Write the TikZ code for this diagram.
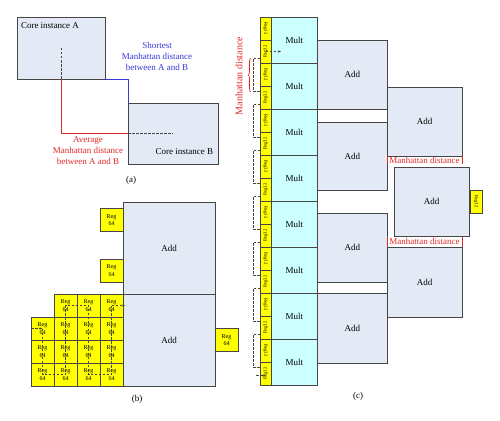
\documentclass[tikz,border=0pt]{standalone}
\usepackage{fontspec}
\setmainfont{Liberation Serif}
\usetikzlibrary{arrows.meta, positioning, decorations.pathreplacing}
\definecolor{corefill}{RGB}{228,234,245}
\definecolor{multfill}{RGB}{204,255,255}
\definecolor{regfill}{RGB}{255,255,0}
\definecolor{edge}{RGB}{70,70,70}
\definecolor{distred}{RGB}{225,40,40}
\definecolor{distblue}{RGB}{55,55,215}

\begin{document}
\begin{tikzpicture}[
      x=1pt, y=-1pt, >={Stealth[length=3pt]},
      every node/.style={inner sep=0pt, outer sep=0pt},
      box/.style={draw=edge, line width=0.8pt, fill=corefill, font=\fontsize{9}{10}\selectfont},
      mult/.style={box, fill=multfill, minimum width=46.5pt, minimum height=46pt},
      reg/.style={draw=edge, line width=0.6pt, fill=regfill, minimum size=23pt, align=center, font=\fontsize{6}{7.5}\selectfont},
      regthin/.style={reg, minimum width=23pt, minimum height=11pt, font=\fontsize{4.6}{5}\selectfont},
      txt/.style={align=center, font=\fontsize{9}{11}\selectfont},
      route/.style={draw=edge, line width=0.6pt, dash pattern=on 2.5pt off 1.5pt},
      ]
      \path[use as bounding box, fill=white] (0,0) rectangle (500,420);

      % (a) two core instances
      \node[box, minimum width=88pt, minimum height=62pt] (coreA) at (61,48) {};
      \node[box, minimum width=90pt, minimum height=61pt] (coreB) at (173,133.5) {};
      \node[txt, anchor=west] (labA) at (21,26) {Core instance A};
      \node[txt, anchor=east] (labB) at (213,152) {Core instance B};
      \draw[route] (coreA.center) -- (coreA.center |- coreA.south);
      \draw[distred, line width=0.9pt] (coreA.center |- coreA.south) |- (coreB.west);
      \draw[route] (coreB.west) -- (coreB.center);
      \draw[distblue, line width=0.9pt] (coreA.south east) -| (coreB.north west);
      \node[txt, text=distblue] (shortest) at (157,56) {Shortest\\Manhattan distance\\between A and B};
      \node[txt, text=distred] (average) at (88,151) {Average\\Manhattan distance\\between A and B};
      \node[txt] (capa) at (131,180) {(a)};

      % (b) adders fed by a block of registers
      \node[box, minimum size=92pt] (addT) at (169,248) {Add};
      \node[box, minimum size=92pt] (addB) at (169,340) {Add};
      \node[reg] (regT1) at (111.5,220) {Reg\\64};
      \node[reg] (regT2) at (111.5,270.5) {Reg\\64};
      \node[reg, right=0pt of addB] (regR) {Reg\\64};
      \foreach \c in {1,2,3}
        \node[reg] (g-0-\c) at (42.5+23*\c, 305.5) {Reg\\64};
      \foreach \r in {1,2,3}
        \foreach \c in {0,...,3}
          \node[reg] (g-\r-\c) at (42.5+23*\c, 305.5+23*\r) {Reg\\64};
      \draw[route, ->] (g-1-0.west) -- (g-1-0.center);
      \draw[route] (g-1-0.center) -- (g-3-0.center) -- (g-3-1.center) -- (g-0-1.center)
        -- (g-0-2.center) -- (g-3-2.center) -- (g-3-3.center) -- (g-0-3.center);
      \draw[route, ->] (g-0-3.center) -- ([xshift=2pt]g-0-3.east);
      \node[txt] (capb) at (137,399) {(b)};

      % (c) multipliers, register column and adder tree
      \foreach \k in {0,...,7} {
        \pgfmathtruncatemacro\ja{2*\k}
        \pgfmathtruncatemacro\jb{2*\k+1}
        \node[mult] (m\k) at (294.25, 40+46*\k) {Mult};
        \node[regthin, rotate=-90] (r\ja) at (265.5, 28.5+46*\k) {Reg32};
        \node[regthin, rotate=90] (r\jb) at (265.5, 51.5+46*\k) {Reg32};
      }
      \foreach \i in {0,...,6} {
        \pgfmathtruncatemacro\sa{2*\i+1}
        \pgfmathtruncatemacro\sb{2*\i+3}
        \draw[route] ([yshift=-6.5pt]r\sa.north) -- ++(-7,0) |- ([yshift=6.5pt]r\sb.north);
      }
      \draw[route, ->] (r1.center) -- ([xshift=10pt]r1.south);
      \draw[route, ->] ([xshift=-4pt, yshift=-2pt]r15.north) -- ([yshift=-2pt]r15.center);
      \draw[distred, line width=0.6pt, decorate, decoration={brace, amplitude=3pt}] (251,92) -- (251,58);
      \node[txt, rotate=90, text=distred, font=\fontsize{10}{12}\selectfont] (mdist) at (239,76) {Manhattan distance};

      \node[box, minimum width=69.5pt, minimum height=69pt] (a1) at (352.25,74.5) {Add};
      \node[box, minimum width=69.5pt, minimum height=68pt] (a2) at (352.25,156) {Add};
      \node[box, minimum width=69.5pt, minimum height=69pt] (a3) at (352.25,247.5) {Add};
      \node[box, minimum width=69.5pt, minimum height=70pt] (a4) at (352.25,328) {Add};
      \node[box, minimum width=75pt, minimum height=69pt] (b1) at (424.5,121.5) {Add};
      \node[box, minimum width=75pt, minimum height=69pt] (bm) at (431.5,201.5) {Add};
      \node[box, minimum width=75pt, minimum height=70pt] (b3) at (424.5,282) {Add};
      \node[regthin, rotate=-90, minimum height=12pt] (rs) at (476,201.5) {Reg32};

      \node[txt, text=distred] (md1) at (424.5,160.5) {Manhattan distance};
      \node[txt, text=distred] (md2) at (424.5,241.5) {Manhattan distance};
      \draw[distred, line width=0.5pt] (b1.south west) -- ++(0,8) (b1.south east) -- ++(0,8);
      \draw[distred, line width=0.5pt] (b3.north west) -- ++(0,-10) (b3.north east) -- ++(0,-10);
      \node[txt] (capc) at (358,396) {(c)};
    \end{tikzpicture}
\end{document}
